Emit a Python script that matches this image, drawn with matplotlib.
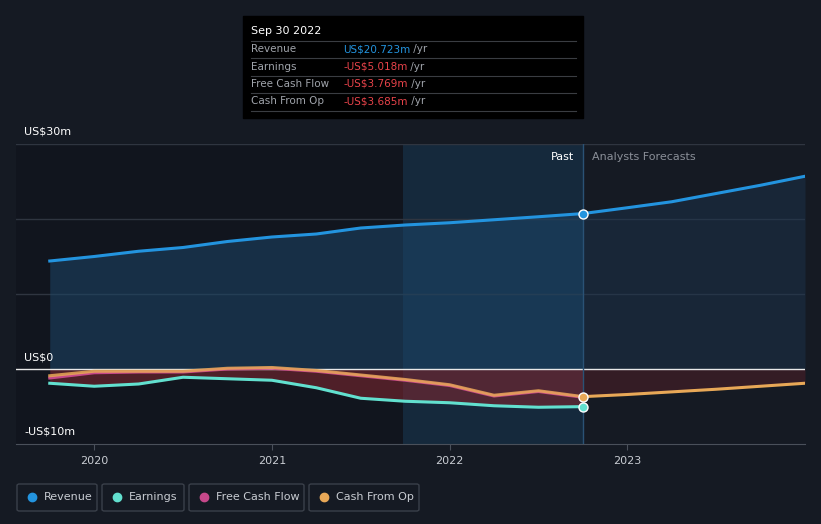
import matplotlib.pyplot as plt
from matplotlib.patches import Rectangle, FancyBboxPatch
from matplotlib.lines import Line2D

# quarterly history (fiscal year fractions) and forecast, US$m
past_t = [2019.75, 2020.0, 2020.25, 2020.5, 2020.75, 2021.0, 2021.25,
          2021.5, 2021.75, 2022.0, 2022.25, 2022.5, 2022.75]
revenue = [14.4, 15.0, 15.7, 16.2, 17.0, 17.6, 18.0, 18.8, 19.2, 19.5, 19.9, 20.3, 20.723]
earnings = [-1.9, -2.3, -2.0, -1.1, -1.3, -1.5, -2.5, -3.9, -4.3, -4.5, -4.9, -5.1, -5.018]
fcf = [-1.2, -0.5, -0.4, -0.4, 0.0, 0.1, -0.3, -0.9, -1.5, -2.2, -3.6, -3.0, -3.769]
cfo = [-0.9, -0.3, -0.3, -0.3, 0.1, 0.2, -0.2, -0.8, -1.4, -2.1, -3.5, -2.9, -3.685]

fc_t = [2022.75, 2023.0, 2023.25, 2023.5, 2023.75, 2024.0]
revenue_fc = [20.723, 21.5, 22.3, 23.4, 24.5, 25.7]
cfo_fc = [-3.685, -3.4, -3.05, -2.7, -2.3, -1.9]

year_ticks = [2020, 2021, 2022, 2023]
legend_names = ["Revenue", "Earnings", "Free Cash Flow", "Cash From Op"]

bg = "#151a23"
c_rev = "#2394df"
c_earn = "#62e0cf"
c_fcf = "#c6488a"
c_cfo = "#e8a857"

W, H = 821, 524
fig = plt.figure(figsize=(W / 100, H / 100), dpi=100, facecolor=bg)

def fx(px):
    return px / W

def fy(py):
    return 1 - py / H

ax = fig.add_axes([fx(16), fy(444), fx(805 - 16), (444 - 144) / H])
ax.set_facecolor(bg)
ax.set_xlim(2019.56, 2024.0)
ax.set_ylim(-10, 30)

# shaded regions
ax.axvspan(2019.56, 2021.74, color="#0d1118", alpha=0.45, lw=0, zorder=0)
ax.axvspan(2021.74, 2022.75, color="#163651", alpha=0.55, lw=0, zorder=0)

for v in [10, 20, 30]:
    ax.axhline(v, color="#2f3540", lw=1, zorder=1)

# fills
ax.fill_between(past_t, revenue, 0, color="#1c4668", alpha=0.55, lw=0, zorder=2)
ax.fill_between(fc_t, revenue_fc, 0, color="#1c3550", alpha=0.45, lw=0, zorder=2)
ax.fill_between(past_t, earnings, 0, color="#7a2630", alpha=0.6, lw=0, zorder=2)
ax.fill_between(fc_t, cfo_fc, 0, color="#4a1e27", alpha=0.6, lw=0, zorder=2)

ax.axhline(0, color="#e8e8e8", lw=1, zorder=3)
ax.axvline(2022.75, color="#2a5275", lw=1, zorder=3)

# lines
ax.plot(past_t, revenue, color=c_rev, lw=2.2, zorder=5)
ax.plot(fc_t, revenue_fc, color=c_rev, lw=2.2, zorder=5)
ax.plot(past_t, earnings, color=c_earn, lw=2.2, zorder=5)
ax.plot(past_t, fcf, color=c_fcf, lw=2.2, zorder=5)
ax.plot(past_t, cfo, color=c_cfo, lw=2.2, zorder=6, alpha=0.85)
ax.plot(fc_t, cfo_fc, color=c_cfo, lw=2.2, zorder=6)

for vals, col in [(revenue, c_rev), (earnings, c_earn), (cfo, c_cfo)]:
    ax.plot(past_t[-1], vals[-1], "o", ms=6.5, color=col, mec="white", mew=1, zorder=8)

for s in ["top", "right", "left"]:
    ax.spines[s].set_visible(False)
ax.spines["bottom"].set_color("#4a505a")
ax.set_yticks([])
ax.set_xticks(year_ticks)
ax.set_xticklabels([str(y) for y in year_ticks])
ax.tick_params(axis="x", colors="#4a505a", length=4, labelcolor="#c8ccd2",
               labelsize=8, pad=5)

ax.text(2022.70, 28.3, "Past", color="white", fontsize=8, ha="right", va="center")
ax.text(2022.80, 28.3, "Analysts Forecasts", color="#8a8f98", fontsize=8, ha="left", va="center")

# y labels
for label, py in [("US$30m", 132), ("US$0", 357), ("-US$10m", 432)]:
    fig.text(fx(24), fy(py), label, color="white", fontsize=8, va="center", ha="left")

# tooltip
fig.patches.append(Rectangle((fx(243), fy(118)), fx(583 - 243), (118 - 16) / H,
                             transform=fig.transFigure, color="#000000", zorder=10))
fig.text(fx(251), fy(31), "Sep 30 2022", color="white", fontsize=8,
         va="center", zorder=11)
rows = [("Revenue", "US$20.723m", c_rev), ("Earnings", "-US$5.018m", "#e8434a"),
        ("Free Cash Flow", "-US$3.769m", "#e8434a"), ("Cash From Op", "-US$3.685m", "#e8434a")]
for i, (name, val, col) in enumerate(rows):
    py = 49 + i * 17.5
    fig.add_artist(Line2D([fx(251), fx(576)], [fy(py - 8.5)] * 2, color="#3a3d42",
                          lw=0.8, transform=fig.transFigure, zorder=11))
    fig.text(fx(251), fy(py), name, color="#a0a4ab", fontsize=7.5, va="center", zorder=11)
    t = fig.text(fx(343), fy(py), val, color=col, fontsize=7.5, va="center", zorder=11)
    fig.add_artist(plt.Annotation(" /yr", xy=(1, 0.5), xycoords=t, va="center",
                                  color="#a0a4ab", fontsize=7.5, zorder=11))
fig.add_artist(Line2D([fx(251), fx(576)], [fy(111)] * 2, color="#3a3d42",
                      lw=0.8, transform=fig.transFigure, zorder=11))

# legend boxes
boxes = [(17, 97), (102, 184), (189, 304), (309, 419)]
for (x0, x1), name, col in zip(boxes, legend_names, [c_rev, c_earn, c_fcf, c_cfo]):
    fig.patches.append(FancyBboxPatch((fx(x0), fy(511)), fx(x1 - x0), 27 / H,
                                      boxstyle="round,pad=0,rounding_size=0.003",
                                      transform=fig.transFigure, fc="none",
                                      ec="#3a404a", lw=1))
    fig.add_artist(Line2D([fx(x0 + 15)], [fy(497)], marker="o", ms=6, color=col,
                          transform=fig.transFigure))
    fig.text(fx(x0 + 27), fy(497), name, color="#c8ccd2", fontsize=8, va="center")

fig.savefig("out.png", dpi=100, facecolor=bg)
